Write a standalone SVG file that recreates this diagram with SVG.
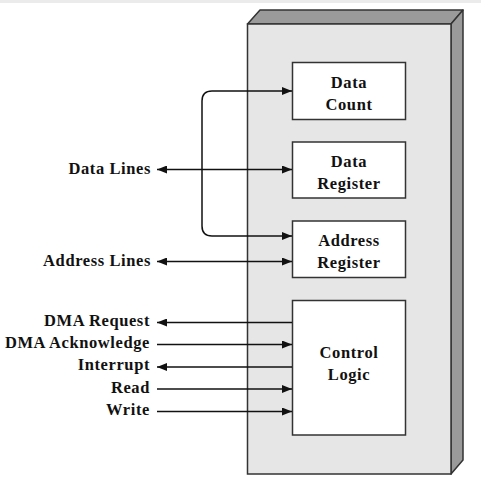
<svg xmlns="http://www.w3.org/2000/svg" width="481" height="479" viewBox="0 0 481 479">
<defs>
<marker id="ah" viewBox="0 0 10 8" refX="10" refY="4" markerWidth="10" markerHeight="8" markerUnits="userSpaceOnUse" orient="auto-start-reverse">
<path d="M0,0 L10,4 L0,8 z" fill="#111"/>
</marker>
<style>
.face{fill:#e6e6e6;stroke:#333;stroke-width:1.5}
.dark{fill:#9a9a9a;stroke:#333;stroke-width:1.5;stroke-linejoin:round}
.box{fill:#fff;stroke:#333;stroke-width:1.5}
.t{font-family:"Liberation Serif","Times New Roman",serif;font-weight:bold;font-size:16.5px;fill:#111;letter-spacing:0.6px}
.c{text-anchor:middle}
.r{text-anchor:end}
.ln{fill:none;stroke:#111;stroke-width:1.5}
.a{marker-end:url(#ah)}
.aa{marker-start:url(#ah);marker-end:url(#ah)}
</style>
</defs>
<rect x="0" y="0" width="481" height="479" fill="#fff"/>
<rect x="0" y="0" width="481" height="3" fill="#ebebeb"/>
<g id="dma-module">
<polygon class="dark" points="247.5,24 260,10 463,10 451,24"/>
<polygon class="dark" points="451,24 463,10 463,460 451,474"/>
<rect class="face" x="247.5" y="24" width="203.5" height="450"/>
</g>
<g id="data-count">
<rect class="box" x="292.5" y="62.5" width="113" height="57"/>
<text class="t c" x="349" y="88">Data</text>
<text class="t c" x="349" y="110">Count</text>
</g>
<g id="data-register">
<rect class="box" x="292.5" y="142" width="113" height="56"/>
<text class="t c" x="349" y="167">Data</text>
<text class="t c" x="349" y="189">Register</text>
</g>
<g id="address-register">
<rect class="box" x="292.5" y="221" width="113" height="56.5"/>
<text class="t c" x="349" y="246">Address</text>
<text class="t c" x="349" y="268">Register</text>
</g>
<g id="control-logic">
<rect class="box" x="292.5" y="300.5" width="113" height="134.5"/>
<text class="t c" x="349" y="358">Control</text>
<text class="t c" x="349" y="380">Logic</text>
</g>
<g id="labels">
<text class="t r" x="151" y="173.5">Data Lines</text>
<text class="t r" x="151" y="265.5">Address Lines</text>
<text class="t r" x="150" y="325.5">DMA Request</text>
<text class="t r" x="150" y="347.5">DMA Acknowledge</text>
<text class="t r" x="150" y="370">Interrupt</text>
<text class="t r" x="150" y="392.5">Read</text>
<text class="t r" x="150" y="415">Write</text>
</g>
<g id="connectors">
<path class="ln a" d="M212,236 Q202,236 202,226 L202,101 Q202,91 212,91 L292,91"/>
<path class="ln a" d="M212,236 L292,236"/>
<line class="ln aa" x1="157" y1="169.5" x2="292" y2="169.5"/>
<line class="ln aa" x1="157" y1="261.5" x2="292" y2="261.5"/>
<line class="ln a" x1="292" y1="322.5" x2="157" y2="322.5"/>
<line class="ln a" x1="157" y1="344.5" x2="292" y2="344.5"/>
<line class="ln a" x1="292" y1="367" x2="157" y2="367"/>
<line class="ln a" x1="157" y1="389" x2="292" y2="389"/>
<line class="ln a" x1="157" y1="411.5" x2="292" y2="411.5"/>
</g>
</svg>
